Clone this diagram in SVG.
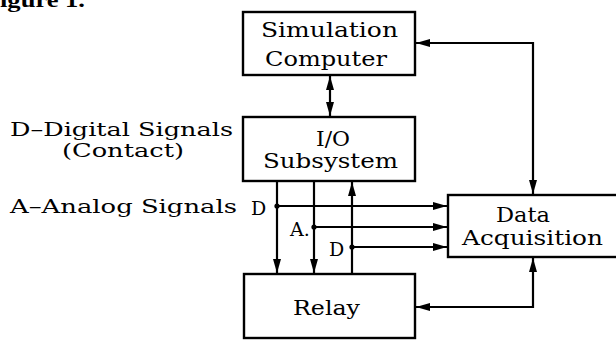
<svg xmlns="http://www.w3.org/2000/svg" width="616" height="340" viewBox="0 0 616 340">
<style>
.box{fill:#fff;stroke:#000;stroke-width:2.4}
.t{font-family:"DejaVu Serif","Liberation Serif",serif;font-size:20px;fill:#000}
.lbl{font-family:"DejaVu Serif","Liberation Serif",serif;font-size:19px;fill:#000}
.cap{font-family:"Liberation Serif",serif;font-size:22px;font-weight:bold;fill:#000}
.ln{fill:none;stroke:#000;stroke-width:2.2}
</style>
<defs>
<marker id="ah" markerUnits="userSpaceOnUse" markerWidth="15" markerHeight="9" refX="14" refY="4.5" orient="auto-start-reverse">
<path d="M0,0.5 L14,4.5 L0,8.5 z" fill="#000"/>
</marker>
</defs>
<rect width="616" height="340" fill="#fff"/>
<text class="cap" x="0" y="7" textLength="85" lengthAdjust="spacingAndGlyphs">igure 1.</text>
<text class="lbl" x="10" y="136" font-size="18" textLength="223" lengthAdjust="spacingAndGlyphs">D–Digital  Signals</text>
<text class="lbl" x="62" y="157" font-size="18" textLength="122" lengthAdjust="spacingAndGlyphs">(Contact)</text>
<text class="lbl" x="10" y="213" textLength="227" lengthAdjust="spacingAndGlyphs">A–Analog  Signals</text>
<g id="sim">
<rect class="box" x="243" y="12" width="172" height="63"/>
<text class="t" x="261" y="37" textLength="137" lengthAdjust="spacingAndGlyphs">Simulation</text>
<text class="t" x="265" y="66" textLength="122" lengthAdjust="spacingAndGlyphs">Computer</text>
</g>
<g id="io">
<rect class="box" x="243" y="117" width="172" height="64"/>
<text class="t" x="316" y="146" textLength="34" lengthAdjust="spacingAndGlyphs">I/O</text>
<text class="t" x="263" y="168" textLength="135" lengthAdjust="spacingAndGlyphs">Subsystem</text>
</g>
<g id="relay">
<rect class="box" x="244" y="274" width="171" height="64"/>
<text class="t" x="293" y="315" textLength="67" lengthAdjust="spacingAndGlyphs">Relay</text>
</g>
<g id="daq">
<rect class="box" x="448" y="195" width="180" height="62"/>
<text class="t" x="496" y="222" textLength="54" lengthAdjust="spacingAndGlyphs">Data</text>
<text class="t" x="462" y="245" textLength="141" lengthAdjust="spacingAndGlyphs">Acquisition</text>
</g>
<g id="connectors">
<path class="ln" d="M416,43 H533 V194" marker-start="url(#ah)" marker-end="url(#ah)"/>
<path class="ln" d="M330,76 V116" marker-start="url(#ah)" marker-end="url(#ah)"/>
<path class="ln" d="M533,258 V307 H416" marker-start="url(#ah)" marker-end="url(#ah)"/>
<path class="ln" d="M277,182 V273" marker-end="url(#ah)"/>
<path class="ln" d="M314,182 V273" marker-end="url(#ah)"/>
<path class="ln" d="M352,274 V182" marker-end="url(#ah)"/>
<path class="ln" d="M277,206 H447" marker-end="url(#ah)"/>
<path class="ln" d="M314,227 H447" marker-end="url(#ah)"/>
<path class="ln" d="M352,247 H447" marker-end="url(#ah)"/>
<circle cx="277" cy="206" r="2.6"/>
<circle cx="314" cy="227" r="2.6"/>
<circle cx="352" cy="247" r="2.6"/>
<text class="lbl" x="251" y="215" font-size="20">D</text>
<text class="lbl" x="290" y="236" font-size="20">A.</text>
<text class="lbl" x="329" y="256" font-size="20">D</text>
</g>
</svg>
